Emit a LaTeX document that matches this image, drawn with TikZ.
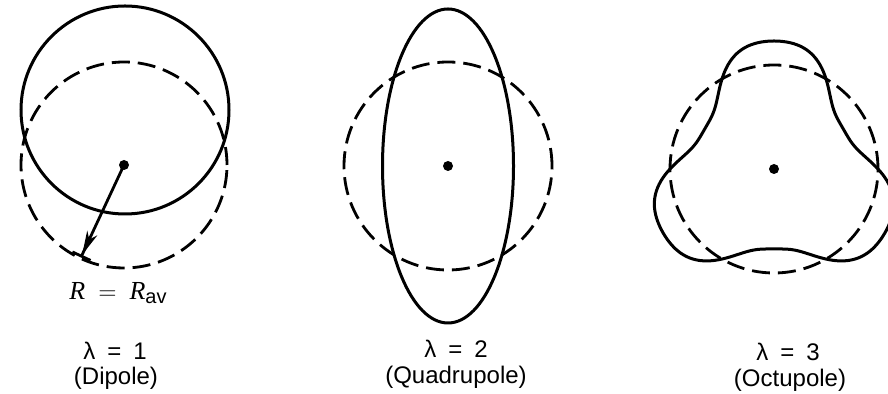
\documentclass[tikz,border=0pt]{standalone}
\usepackage{amsmath,amssymb}
\usepackage{fontspec}
\setsansfont{Liberation Sans}
\newfontfamily\rfont{Liberation Serif}
\usetikzlibrary{arrows.meta}

\begin{document}
\begin{tikzpicture}[x=0.5pt, y=0.5pt,
    shape line/.style={line width=1.5pt},
    avg line/.style={line width=1.4pt, dash pattern=on 9pt off 4pt},
    caption/.style={font=\sffamily\fontsize{12}{14}\selectfont, inner sep=0pt}]
    \useasboundingbox (0,0) rectangle (888,394);

    % Dipole, lambda = 1 (dashed circle is R = R_av)
    \coordinate (O1) at (124,229);
    \draw[avg line] (O1) circle (103);
    \draw[shape line] (125,284) circle (104);
    \fill (O1) circle (5);

    % Radius arrow with bar at the tip
    \coordinate (T1) at ([shift={(245:102)}]O1);
    \draw[line width=1.4pt, -{Stealth[length=12pt, width=5.5pt, inset=3.5pt, sep=0pt] Bar[width=10pt, sep=0pt]}] (O1) -- (T1);
    \node[inner sep=0pt, font=\fontsize{13}{15}\selectfont] (rav) at (118,101)
        {{\rfont\itshape R}\enspace$=$\enspace{\rfont\itshape R}\raisebox{-0.35ex}{\sffamily\fontsize{10}{12}\selectfont av}};

    % Quadrupole, lambda = 2
    \coordinate (O2) at (448,228);
    \draw[avg line] (O2) circle (104);
    \draw[shape line] (O2) ellipse [x radius=65.5, y radius=157];
    \fill (O2) circle (5);

    % Octupole, lambda = 3 (three lobes)
    \coordinate (O3) at (774,225);
    \draw[avg line] (O3) circle (104);
    \draw[shape line, shift={(O3)}] plot[smooth cycle, samples=120, domain=0:357]
        (\x:{104-26*sin(3*\x)-2*sin(9*\x)});
    \fill (O3) circle (5);

    % Captions
    \node[caption] (l1) at (115,43) {λ\enspace=\enspace1};
    \node[caption] (n1) at (116,16) {(Dipole)};
    \node[caption] (l2) at (456,45) {λ\enspace=\enspace2};
    \node[caption] (n2) at (456,17) {(Quadrupole)};
    \node[caption] (l3) at (788,42) {λ\enspace=\enspace3};
    \node[caption] (n3) at (790,14) {(Octupole)};
\end{tikzpicture}
\end{document}
